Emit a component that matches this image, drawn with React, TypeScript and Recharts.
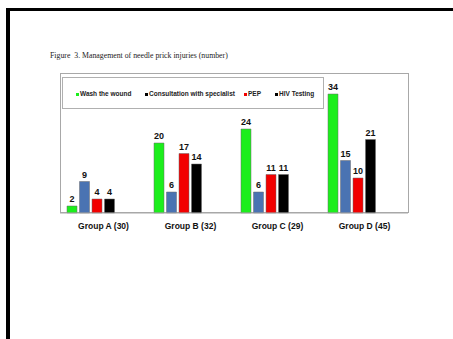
import { BarChart, Bar, XAxis, YAxis, LabelList } from "recharts";

// needle prick injury management, counts per group
const groups = ["Group A (30)", "Group B (32)", "Group C (29)", "Group D (45)"];
const washWound = [2, 20, 24, 34];
const consultation = [9, 6, 6, 15];
const pep = [4, 17, 11, 10];
const hivTesting = [4, 14, 11, 21];

const seriesNames = ["Wash the wound", "Consultation with specialist", "PEP", "HIV Testing"];
const barColors = ["#1cee1c", "#4a73b2", "#f20000", "#000000"];
// legend swatches as printed (consultation swatch is black)
const swatchColors = ["#1cee1c", "#000000", "#f20000", "#000000"];
const legendLeft = [13, 82, 181, 212];

const data = groups.map((g, i) => ({
  group: g,
  wash: washWound[i],
  consult: consultation[i],
  pep: pep[i],
  hiv: hivTesting[i],
}));

const keys = ["wash", "consult", "pep", "hiv"];

const sans = "'Liberation Sans', Arial, sans-serif";

function LegendBox() {
  return (
    <div
      style={{
        position: "absolute",
        left: 62,
        top: 77,
        width: 262,
        height: 32,
        border: "1px solid #b0b0b0",
        boxSizing: "border-box",
        background: "#fff",
      }}
    >
      {seriesNames.map((name, i) => (
        <div
          key={name}
          style={{
            position: "absolute",
            left: legendLeft[i],
            top: 12,
            fontFamily: sans,
            fontWeight: "bold",
            fontSize: 6.5,
            lineHeight: "8px",
            whiteSpace: "nowrap",
            color: "#222",
          }}
        >
          <span
            style={{
              display: "inline-block",
              width: 3,
              height: 3,
              background: swatchColors[i],
              marginRight: 1,
              verticalAlign: "middle",
            }}
          />
          {name}
        </div>
      ))}
    </div>
  );
}

export default function App() {
  return (
    <div
      style={{
        position: "absolute",
        left: 0,
        top: 0,
        width: 453,
        height: 339,
        background: "#fff",
        overflow: "hidden",
      }}
    >
      {/* page frame */}
      <div style={{ position: "absolute", left: 6, top: 8, width: 447, height: 2.5, background: "#000" }} />
      <div style={{ position: "absolute", left: 6, top: 8, width: 4, height: 331, background: "#000" }} />

      <div
        style={{
          position: "absolute",
          left: 50,
          top: 50.5,
          fontFamily: "'Liberation Serif', 'Times New Roman', serif",
          fontSize: 7.8,
          lineHeight: "9px",
          whiteSpace: "pre",
          color: "#222",
        }}
      >
        {"Figure  3. Management of needle prick injuries (number)"}
      </div>

      {/* plot frame */}
      <div
        style={{
          position: "absolute",
          left: 59.5,
          top: 73,
          width: 349,
          height: 140,
          border: "1px solid #a8a8a8",
          boxSizing: "border-box",
        }}
      />

      <BarChart
        width={453}
        height={260}
        data={data}
        margin={{ top: 73, right: 45, left: 60, bottom: 27 }}
        barSize={10}
        barGap={2.5}
        style={{ position: "absolute", left: 0, top: 0 }}
      >
        <XAxis
          dataKey="group"
          height={20}
          interval={0}
          tickLine={false}
          tickSize={0}
          tickMargin={10}
          axisLine={{ stroke: "#a8a8a8" }}
          tick={{ fill: "#111", fontSize: 8.5, fontWeight: "bold", fontFamily: sans }}
        />
        <YAxis hide domain={[0, 40]} />
        {keys.map((k, i) => (
          <Bar
            key={k}
            dataKey={k}
            name={seriesNames[i]}
            fill={barColors[i]}
            stroke="#6a6a6a"
            strokeWidth={0.5}
            isAnimationActive={false}
          >
            <LabelList
              dataKey={k}
              position="top"
              offset={4}
              style={{ fill: "#111", fontSize: 9, fontWeight: "bold", fontFamily: sans }}
            />
          </Bar>
        ))}
        {/* empty slots push each group's bars to the left of its band */}
        <Bar dataKey="padA" legendType="none" isAnimationActive={false} />
        <Bar dataKey="padB" legendType="none" isAnimationActive={false} />
      </BarChart>

      <LegendBox />
    </div>
  );
}
